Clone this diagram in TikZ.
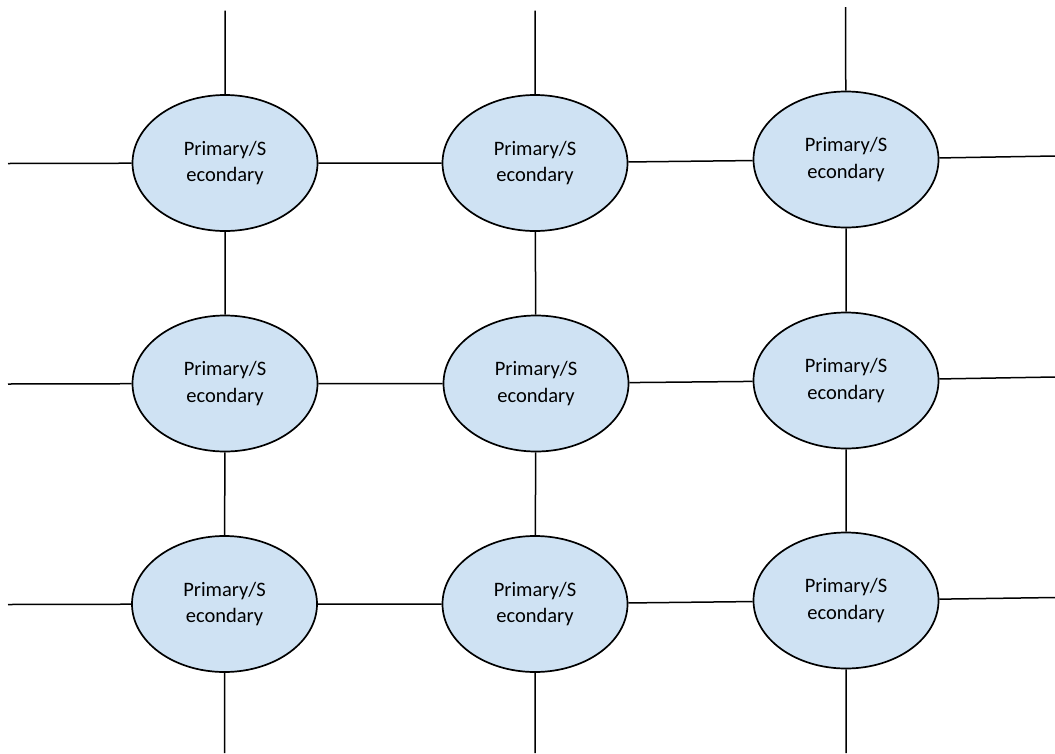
\documentclass[tikz,border=0pt]{standalone}
\usepackage{fontspec}
\setmainfont{Carlito}
\usetikzlibrary{shapes.geometric}
\definecolor{cellfill}{RGB}{207,226,243}
\begin{document}
\begin{tikzpicture}[x=1pt,y=-1pt,
  cell/.style={ellipse,draw=black,line width=1.7pt,fill=cellfill,
    minimum width=185pt,minimum height=136pt,inner sep=0pt,align=center,
    font=\fontsize{20.5}{26.7}\selectfont},
  link/.style={line width=1.5pt,black}]
\useasboundingbox (0,0) rectangle (1055,753);
% grid of cells
\node[cell] (n11) at (225,163) {Primary/S\\econdary};
\node[cell] (n12) at (535,163) {Primary/S\\econdary};
\node[cell] (n13) at (846,159.5) {Primary/S\\econdary};
\node[cell] (n21) at (225,383.5) {Primary/S\\econdary};
\node[cell] (n22) at (536,383.5) {Primary/S\\econdary};
\node[cell] (n23) at (846,380.5) {Primary/S\\econdary};
\node[cell] (n31) at (224.5,604) {Primary/S\\econdary};
\node[cell] (n32) at (535,604) {Primary/S\\econdary};
\node[cell] (n33) at (846,600.5) {Primary/S\\econdary};
% free ends of the outer links
\coordinate (t1) at (225,10.5);
\coordinate (t2) at (535,10.5);
\coordinate (t3) at (845.5,7);
\coordinate (b1) at (224.5,753);
\coordinate (b2) at (535,753);
\coordinate (b3) at (846,753);
\coordinate (l1) at (8,163.5);
\coordinate (l2) at (8,384);
\coordinate (l3) at (8,604.5);
\coordinate (r1) at (1055,156);
\coordinate (r2) at (1055,377);
\coordinate (r3) at (1055,597.5);
% horizontal links
\draw[link] (l1) -- (n11) -- (n12) -- (n13) -- (r1);
\draw[link] (l2) -- (n21) -- (n22) -- (n23) -- (r2);
\draw[link] (l3) -- (n31) -- (n32) -- (n33) -- (r3);
% vertical links
\draw[link] (t1) -- (n11) -- (n21) -- (n31) -- (b1);
\draw[link] (t2) -- (n12) -- (n22) -- (n32) -- (b2);
\draw[link] (t3) -- (n13) -- (n23) -- (n33) -- (b3);
\end{tikzpicture}
\end{document}
